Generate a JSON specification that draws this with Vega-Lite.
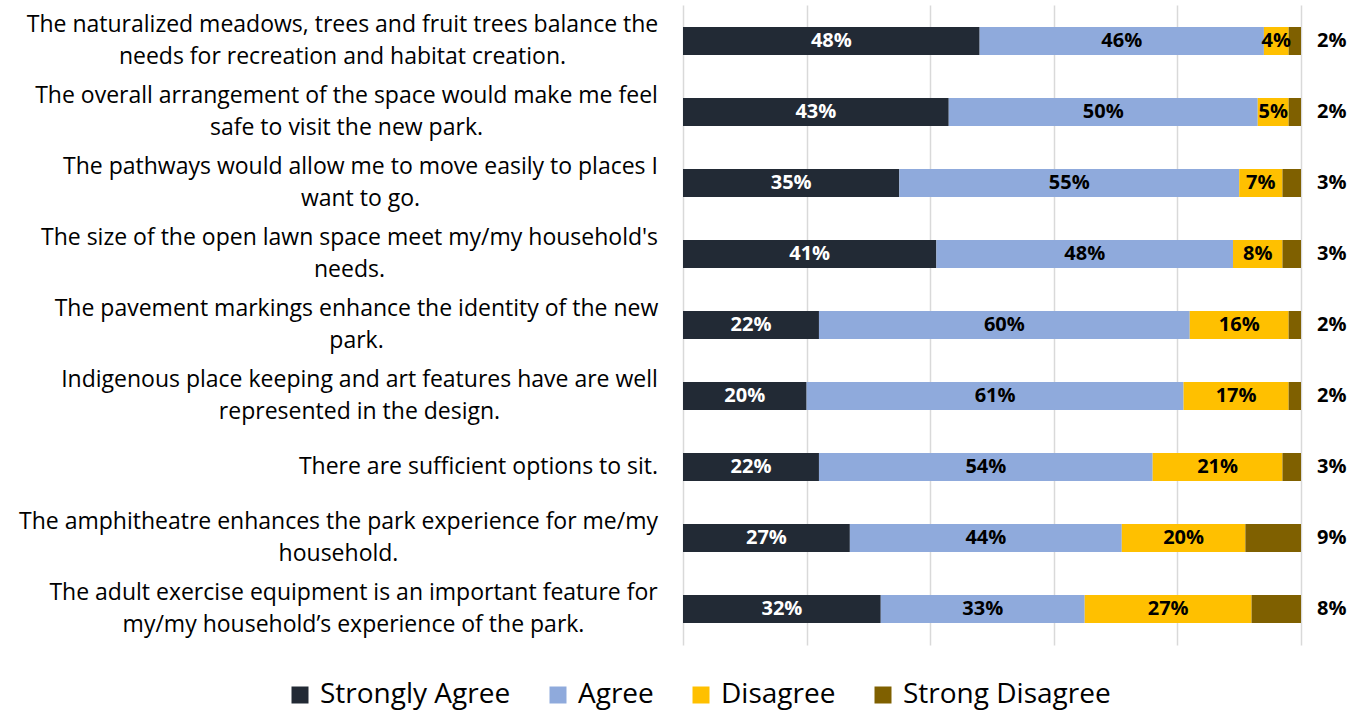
{
  "$schema": "https://vega.github.io/schema/vega-lite/v6.json",
  "width": 618,
  "height": 640,
  "autosize": {"type": "none"},
  "padding": {"left": 683, "top": 5, "right": 65, "bottom": 66},
  "background": "white",
  "config": {"view": {"stroke": null}, "font": "Open Sans"},
  "data": {
    "values": [
      {"question": "The naturalized meadows, trees and fruit trees balance the|needs for recreation and habitat creation.", "cat": "Strongly Agree", "order": 1, "value": 0.48},
      {"question": "The naturalized meadows, trees and fruit trees balance the|needs for recreation and habitat creation.", "cat": "Agree", "order": 2, "value": 0.46},
      {"question": "The naturalized meadows, trees and fruit trees balance the|needs for recreation and habitat creation.", "cat": "Disagree", "order": 3, "value": 0.04},
      {"question": "The naturalized meadows, trees and fruit trees balance the|needs for recreation and habitat creation.", "cat": "Strong Disagree", "order": 4, "value": 0.02},
      {"question": "The overall arrangement of the space would make me feel|safe to visit the new park.", "cat": "Strongly Agree", "order": 1, "value": 0.43},
      {"question": "The overall arrangement of the space would make me feel|safe to visit the new park.", "cat": "Agree", "order": 2, "value": 0.50},
      {"question": "The overall arrangement of the space would make me feel|safe to visit the new park.", "cat": "Disagree", "order": 3, "value": 0.05},
      {"question": "The overall arrangement of the space would make me feel|safe to visit the new park.", "cat": "Strong Disagree", "order": 4, "value": 0.02},
      {"question": "The pathways would allow me to move easily to places I|want to go.", "cat": "Strongly Agree", "order": 1, "value": 0.35},
      {"question": "The pathways would allow me to move easily to places I|want to go.", "cat": "Agree", "order": 2, "value": 0.55},
      {"question": "The pathways would allow me to move easily to places I|want to go.", "cat": "Disagree", "order": 3, "value": 0.07},
      {"question": "The pathways would allow me to move easily to places I|want to go.", "cat": "Strong Disagree", "order": 4, "value": 0.03},
      {"question": "The size of the open lawn space meet my/my household's|needs.", "cat": "Strongly Agree", "order": 1, "value": 0.41},
      {"question": "The size of the open lawn space meet my/my household's|needs.", "cat": "Agree", "order": 2, "value": 0.48},
      {"question": "The size of the open lawn space meet my/my household's|needs.", "cat": "Disagree", "order": 3, "value": 0.08},
      {"question": "The size of the open lawn space meet my/my household's|needs.", "cat": "Strong Disagree", "order": 4, "value": 0.03},
      {"question": "The pavement markings enhance the identity of the new|park.", "cat": "Strongly Agree", "order": 1, "value": 0.22},
      {"question": "The pavement markings enhance the identity of the new|park.", "cat": "Agree", "order": 2, "value": 0.60},
      {"question": "The pavement markings enhance the identity of the new|park.", "cat": "Disagree", "order": 3, "value": 0.16},
      {"question": "The pavement markings enhance the identity of the new|park.", "cat": "Strong Disagree", "order": 4, "value": 0.02},
      {"question": "Indigenous place keeping and art features have are well|represented in the design.", "cat": "Strongly Agree", "order": 1, "value": 0.20},
      {"question": "Indigenous place keeping and art features have are well|represented in the design.", "cat": "Agree", "order": 2, "value": 0.61},
      {"question": "Indigenous place keeping and art features have are well|represented in the design.", "cat": "Disagree", "order": 3, "value": 0.17},
      {"question": "Indigenous place keeping and art features have are well|represented in the design.", "cat": "Strong Disagree", "order": 4, "value": 0.02},
      {"question": "There are sufficient options to sit.", "cat": "Strongly Agree", "order": 1, "value": 0.22},
      {"question": "There are sufficient options to sit.", "cat": "Agree", "order": 2, "value": 0.54},
      {"question": "There are sufficient options to sit.", "cat": "Disagree", "order": 3, "value": 0.21},
      {"question": "There are sufficient options to sit.", "cat": "Strong Disagree", "order": 4, "value": 0.03},
      {"question": "The amphitheatre enhances the park experience for me/my|household.", "cat": "Strongly Agree", "order": 1, "value": 0.27},
      {"question": "The amphitheatre enhances the park experience for me/my|household.", "cat": "Agree", "order": 2, "value": 0.44},
      {"question": "The amphitheatre enhances the park experience for me/my|household.", "cat": "Disagree", "order": 3, "value": 0.20},
      {"question": "The amphitheatre enhances the park experience for me/my|household.", "cat": "Strong Disagree", "order": 4, "value": 0.09},
      {"question": "The adult exercise equipment is an important feature for|my/my household’s experience of the park.", "cat": "Strongly Agree", "order": 1, "value": 0.32},
      {"question": "The adult exercise equipment is an important feature for|my/my household’s experience of the park.", "cat": "Agree", "order": 2, "value": 0.33},
      {"question": "The adult exercise equipment is an important feature for|my/my household’s experience of the park.", "cat": "Disagree", "order": 3, "value": 0.27},
      {"question": "The adult exercise equipment is an important feature for|my/my household’s experience of the park.", "cat": "Strong Disagree", "order": 4, "value": 0.08}
    ]
  },
  "transform": [
    {"stack": "value", "groupby": ["question"], "sort": [{"field": "order", "order": "ascending"}], "as": ["x0", "x1"]}
  ],
  "encoding": {
    "y": {
      "field": "question",
      "type": "nominal",
      "sort": null,
      "title": null,
      "scale": {"paddingInner": 0.606, "paddingOuter": 0.31},
      "axis": {
        "domain": false,
        "ticks": false,
        "labelPadding": {
          "condition": [
            {"test": "indexof(datum.value, 'naturalized') >= 0", "value": 341},
            {"test": "indexof(datum.value, 'overall') >= 0", "value": 337},
            {"test": "indexof(datum.value, 'pathways') >= 0", "value": 323},
            {"test": "indexof(datum.value, 'lawn') >= 0", "value": 334},
            {"test": "indexof(datum.value, 'pavement') >= 0", "value": 327},
            {"test": "indexof(datum.value, 'Indigenous') >= 0", "value": 324},
            {"test": "indexof(datum.value, 'sufficient') >= 0", "value": 205},
            {"test": "indexof(datum.value, 'amphitheatre') >= 0", "value": 345},
            {"test": "indexof(datum.value, 'adult') >= 0", "value": 330}
          ],
          "value": 26
        },
        "labelFontSize": 23,
        "labelFont": "Open Sans",
        "labelColor": "black",
        "labelLimit": 0,
        "labelLineHeight": 32,
        "labelAlign": "center",
        "labelBaseline": "middle",
        "labelOffset": {"condition": {"test": "indexof(datum.value, '|') >= 0", "value": -16}, "value": 0},
        "labelExpr": "split(datum.label, '|')"
      }
    }
  },
  "layer": [
    {
      "mark": {"type": "bar"},
      "encoding": {
        "x": {
          "field": "x0",
          "type": "quantitative",
          "scale": {"domain": [0, 1], "nice": false},
          "title": null,
          "axis": {
            "values": [0, 0.2, 0.4, 0.6, 0.8, 1],
            "labels": false,
            "ticks": false,
            "domain": false,
            "grid": true,
            "gridColor": "#d9d9d9",
            "gridWidth": 1.5
          }
        },
        "x2": {"field": "x1"},
        "color": {
          "field": "cat",
          "type": "nominal",
          "scale": {
            "domain": ["Strongly Agree", "Agree", "Disagree", "Strong Disagree"],
            "range": ["#222A35", "#8FAADC", "#FFC000", "#7F6000"]
          },
          "legend": {
            "title": null,
            "orient": "none",
            "legendX": -397,
            "legendY": 676,
            "direction": "horizontal",
            "symbolType": "square",
            "symbolSize": 289,
            "symbolStrokeWidth": 0,
            "labelFontSize": 28,
            "labelFont": "Open Sans",
            "labelColor": "black",
            "labelOffset": 6,
            "columnPadding": 33,
            "labelLimit": 0
          }
        }
      }
    },
    {
      "transform": [
        {"filter": "datum.cat !== 'Strong Disagree'"},
        {"fold": ["x0", "x1"], "as": ["edge", "pos"]}
      ],
      "mark": {"type": "text", "fontWeight": "bold", "fontSize": 20, "font": "Open Sans", "baseline": "middle", "align": "center"},
      "encoding": {
        "x": {"field": "pos", "aggregate": "mean", "type": "quantitative"},
        "detail": {"field": "cat", "type": "nominal"},
        "text": {"field": "value", "aggregate": "max", "type": "quantitative", "format": ".0%"},
        "color": {"condition": {"test": "datum.cat === 'Strongly Agree'", "value": "white"}, "value": "black"}
      }
    },
    {
      "transform": [{"filter": "datum.cat === 'Strong Disagree'"}],
      "mark": {"type": "text", "fontWeight": "bold", "fontSize": 20, "font": "Open Sans", "baseline": "middle", "align": "left", "dx": 16, "color": "black"},
      "encoding": {
        "x": {"field": "x1", "type": "quantitative"},
        "text": {"field": "value", "type": "quantitative", "format": ".0%"}
      }
    }
  ]
}
